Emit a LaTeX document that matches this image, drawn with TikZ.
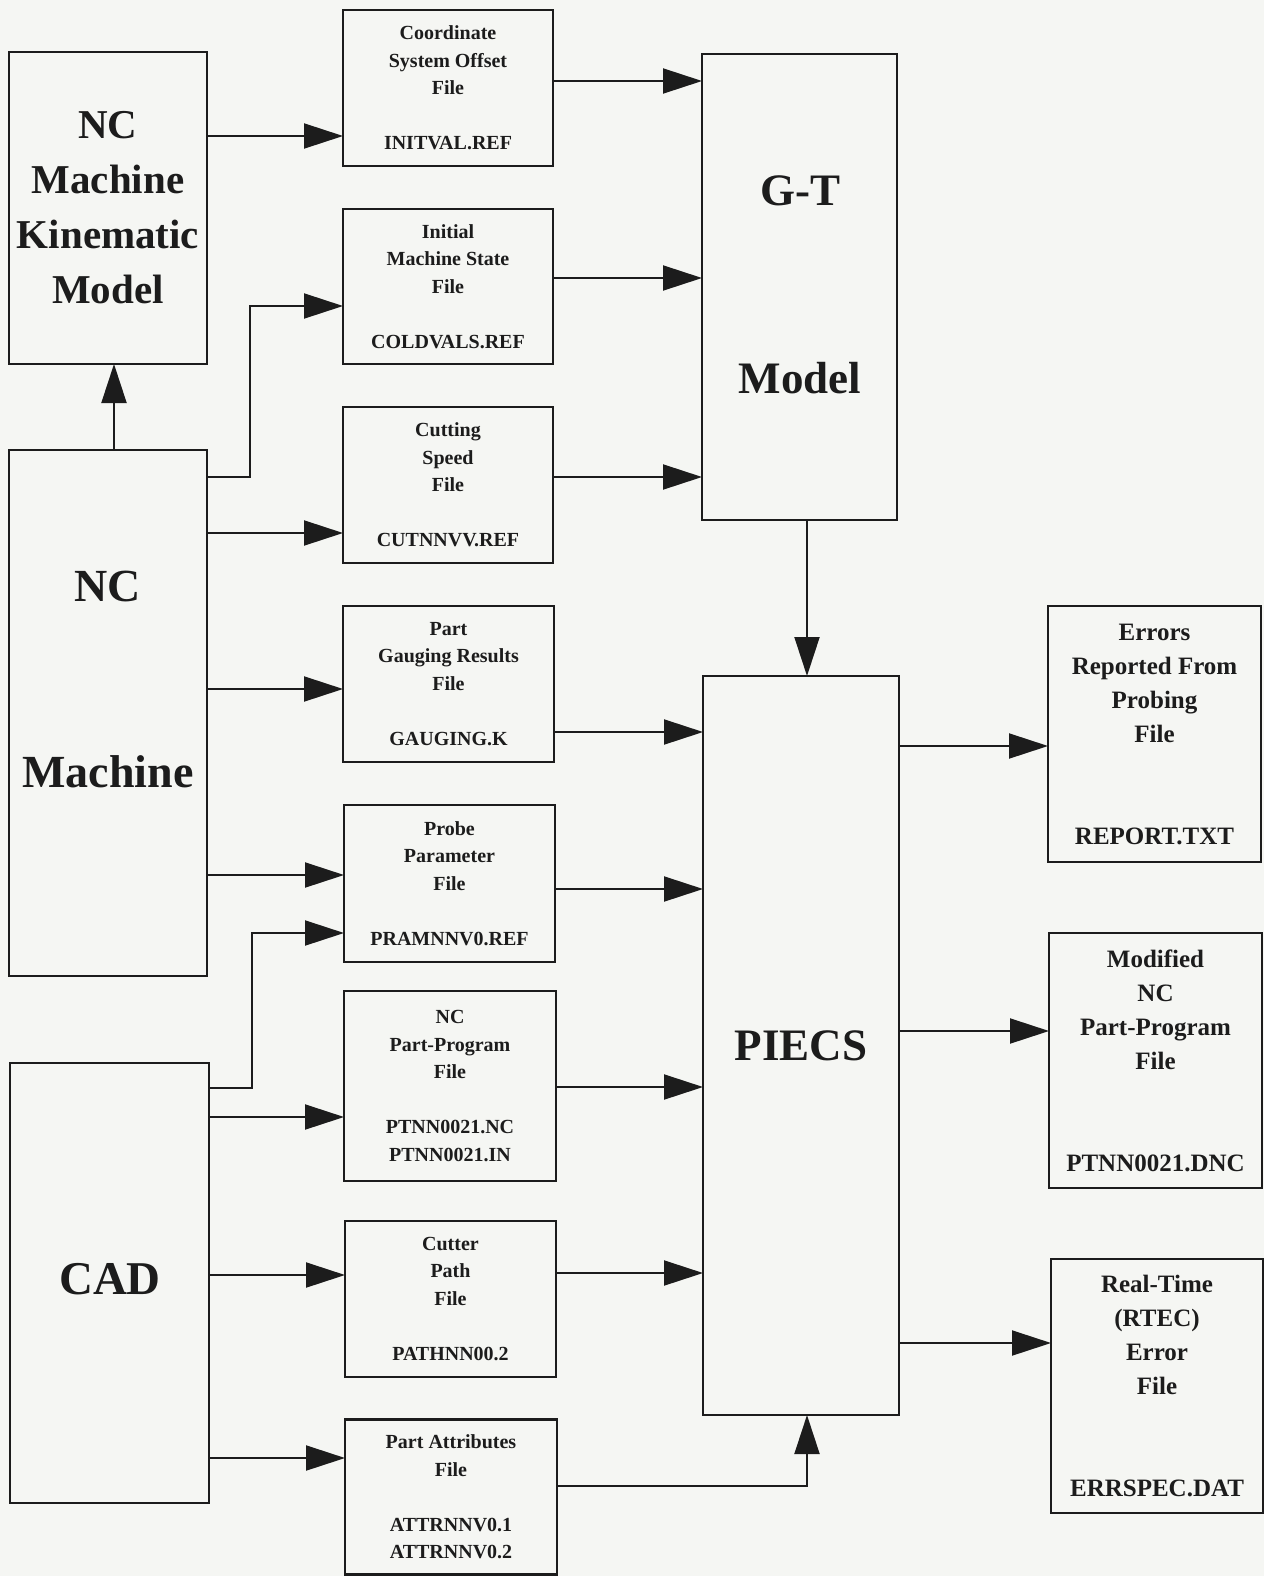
\documentclass[tikz,border=0pt]{standalone}
\usepackage{fontspec}
\setmainfont{Liberation Serif}
\usetikzlibrary{arrows.meta}
\definecolor{paper}{RGB}{245,246,243}
\definecolor{ink}{RGB}{28,28,28}
\tikzset{
  box/.style={draw=ink, fill=paper, line width=2.2pt, inner sep=0pt, outer sep=0pt, rectangle, align=center, text=ink, font=\bfseries},
  smallbox/.style={box, font=\bfseries\fontsize{20}{27.5}\selectfont},
  outbox/.style={box, font=\bfseries\fontsize{25}{34}\selectfont},
  bigtext/.style={text=ink, inner sep=0pt, align=center},
  arr/.style={draw=ink, line width=2pt, -{Triangle[length=39pt,width=25pt]}},
}
\begin{document}
\begin{tikzpicture}[x=1pt,y=-1pt]
\useasboundingbox[fill=paper] (0,0) rectangle (1264,1576);

% left column
\node[box, minimum width=198pt, minimum height=312pt, font=\bfseries\fontsize{41}{55}\selectfont] (ncmkm) at (108,208) {NC\\Machine\\Kinematic\\Model};
\node[box, minimum width=198pt, minimum height=526pt] (ncm) at (108,713) {};
\node[bigtext, font=\bfseries\fontsize{46}{55}\selectfont] (ncmA) at (108,586) {NC};
\node[bigtext, font=\bfseries\fontsize{46}{55}\selectfont] (ncmB) at (108,772) {Machine};
\node[box, minimum width=199pt, minimum height=440pt] (cad) at (109.5,1283) {};
\node[bigtext, font=\bfseries\fontsize{47}{55}\selectfont] (cadT) at (110,1279) {CAD};

% middle column
\node[smallbox, minimum width=210pt, minimum height=156pt] (coord) at (448,88) {Coordinate\\System Offset\\File\\[27.5pt]INITVAL.REF};
\node[smallbox, minimum width=210pt, minimum height=155pt] (init) at (448,286.5) {Initial\\Machine State\\File\\[27.5pt]COLDVALS.REF};
\node[smallbox, minimum width=210pt, minimum height=156pt] (cut) at (448,485) {Cutting\\Speed\\File\\[27.5pt]CUTNNVV.REF};
\node[smallbox, minimum width=211pt, minimum height=156pt] (gauge) at (448.5,684) {Part\\Gauging Results\\File\\[27.5pt]GAUGING.K};
\node[smallbox, minimum width=211pt, minimum height=157pt] (probe) at (449.5,883.5) {Probe\\Parameter\\File\\[27.5pt]PRAMNNV0.REF};
\node[smallbox, minimum width=212pt, minimum height=190pt] (ncpp) at (450,1086) {NC\\Part-Program\\File\\[27.5pt]PTNN0021.NC\\PTNN0021.IN};
\node[smallbox, minimum width=211pt, minimum height=156pt] (cutter) at (450.5,1299) {Cutter\\Path\\File\\[27.5pt]PATHNN00.2};
\node[smallbox, minimum width=212pt, minimum height=155pt] (pattr) at (451,1497) {Part Attributes\\File\\[27.5pt]ATTRNNV0.1\\ATTRNNV0.2};

% processing column
\node[box, minimum width=195pt, minimum height=466pt] (gt) at (799.5,287) {};
\node[bigtext, font=\bfseries\fontsize{45}{55}\selectfont] (gtA) at (800,191) {G-T};
\node[bigtext, font=\bfseries\fontsize{45}{55}\selectfont] (gtB) at (800,378) {Model};
\node[box, minimum width=196pt, minimum height=739pt, font=\bfseries\fontsize{45}{55}\selectfont] (piecs) at (801,1045.5) {PIECS};

% output column
\node[outbox, minimum width=213pt, minimum height=256pt] (err) at (1154.5,734) {Errors\\Reported From\\Probing\\File\\[68pt]REPORT.TXT};
\node[outbox, minimum width=213pt, minimum height=255pt] (mod) at (1155.5,1060.5) {Modified\\NC\\Part-Program\\File\\[68pt]PTNN0021.DNC};
\node[outbox, minimum width=212pt, minimum height=254pt] (rt) at (1157,1386) {Real-Time\\(RTEC)\\Error\\File\\[68pt]ERRSPEC.DAT};

% connectors from NC machine / kinematic model
\draw[arr] (ncm.north -| 114,0) -- (ncmkm.south -| 114,0);
\draw[arr] (ncmkm.east |- 0,136) -- (coord.west |- 0,136);
\draw[arr] (ncm.east |- 0,477) -- (250,477) |- (init.west |- 0,306);
\draw[arr] (ncm.east |- 0,533) -- (cut.west |- 0,533);
\draw[arr] (ncm.east |- 0,689) -- (gauge.west |- 0,689);
\draw[arr] (ncm.east |- 0,875) -- (probe.west |- 0,875);

% connectors from CAD
\draw[arr] (cad.east |- 0,1088) -- (252,1088) |- (probe.west |- 0,933);
\draw[arr] (cad.east |- 0,1117) -- (ncpp.west |- 0,1117);
\draw[arr] (cad.east |- 0,1275) -- (cutter.west |- 0,1275);
\draw[arr] (cad.east |- 0,1458) -- (pattr.west |- 0,1458);

% files into G-T model
\draw[arr] (coord.east |- 0,81) -- (gt.west |- 0,81);
\draw[arr] (init.east |- 0,278) -- (gt.west |- 0,278);
\draw[arr] (cut.east |- 0,477) -- (gt.west |- 0,477);

% G-T model into PIECS
\draw[arr] (gt.south -| 807,0) -- (piecs.north -| 807,0);

% files into PIECS
\draw[arr] (gauge.east |- 0,732) -- (piecs.west |- 0,732);
\draw[arr] (probe.east |- 0,889) -- (piecs.west |- 0,889);
\draw[arr] (ncpp.east |- 0,1087) -- (piecs.west |- 0,1087);
\draw[arr] (cutter.east |- 0,1273) -- (piecs.west |- 0,1273);
\draw[arr] (pattr.east |- 0,1486) -| (piecs.south -| 807,0);

% PIECS outputs
\draw[arr] (piecs.east |- 0,746) -- (err.west |- 0,746);
\draw[arr] (piecs.east |- 0,1031) -- (mod.west |- 0,1031);
\draw[arr] (piecs.east |- 0,1343) -- (rt.west |- 0,1343);
\end{tikzpicture}
\end{document}
